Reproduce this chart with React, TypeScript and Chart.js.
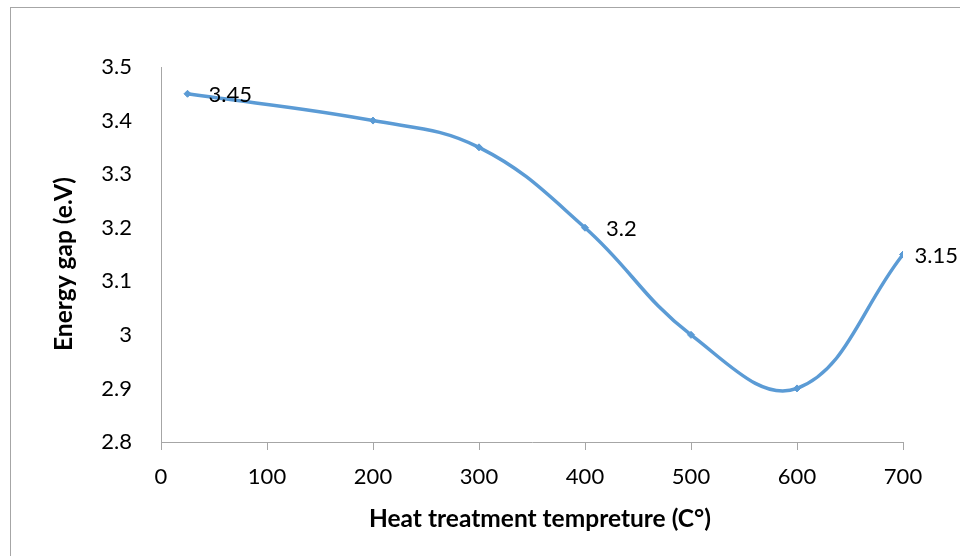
import React, { useEffect, useRef } from "react";
import { Chart, registerables } from "chart.js";

Chart.register(...registerables);

const temperatures = [25, 200, 300, 400, 500, 600, 700];
const energyGap = [3.45, 3.4, 3.35, 3.2, 3.0, 2.9, 3.15];
const labelledValues = ["3.45", "", "", "3.2", "", "", "3.15"];
const xTitle = "Heat treatment tempreture (C°)";
const yTitle = "Energy gap (e.V)";

const FONT = "Lato, 'Open Sans', sans-serif";

const decorPlugin = {
  id: "decor",
  beforeDraw(chart: any) {
    const ctx = chart.ctx;
    ctx.save();
    ctx.fillStyle = "#ffffff";
    ctx.fillRect(0, 0, chart.width, chart.height);
    ctx.strokeStyle = "#a6a6a6";
    ctx.lineWidth = 1;
    ctx.strokeRect(10.5, 7.5, chart.width + 20, chart.height + 20);
    ctx.restore();
  },
  afterDraw(chart: any) {
    const ctx = chart.ctx;
    ctx.save();
    ctx.fillStyle = "#000000";
    ctx.font = `bold 24.5px ${FONT}`;
    ctx.textAlign = "center";
    ctx.textBaseline = "middle";
    ctx.fillText(xTitle, 540, 519);
    ctx.translate(64, 264);
    ctx.rotate(-Math.PI / 2);
    ctx.fillText(yTitle, 0, 0);
    ctx.restore();

    const meta = chart.getDatasetMeta(0);
    ctx.save();
    ctx.font = `22px ${FONT}`;
    ctx.fillStyle = "#000000";
    ctx.textAlign = "left";
    ctx.textBaseline = "middle";
    meta.data.forEach((pt: any, i: number) => {
      const txt = labelledValues[i];
      if (!txt) return;
      const w = ctx.measureText(txt).width;
      const x = Math.min(pt.x + 21, chart.width - w - 2);
      ctx.fillText(txt, x, pt.y + 1);
    });
    ctx.restore();
  },
};

export default function App() {
  const ref = useRef<HTMLCanvasElement | null>(null);
  useEffect(() => {
    if (!ref.current) return;
    const chart = new Chart(ref.current, {
      type: "line",
      data: {
        datasets: [
          {
            data: temperatures.map((x, i) => ({ x, y: energyGap[i] })),
            borderColor: "#5b9bd5",
            backgroundColor: "#5b9bd5",
            borderWidth: 3.5,
            tension: 0.4,
            pointStyle: "rectRot",
            pointRadius: 3.5,
            pointBorderWidth: 1,
            fill: false,
          },
        ],
      },
      options: {
        animation: false,
        responsive: false,
        maintainAspectRatio: false,
        layout: { padding: { left: 0, top: 67, right: 57, bottom: 0 } },
        plugins: { legend: { display: false }, tooltip: { enabled: false } },
        scales: {
          x: {
            type: "linear",
            min: 0,
            max: 700,
            afterFit: (s: any) => {
              s.height = 114;
            },
            ticks: {
              stepSize: 100,
              color: "#000000",
              font: { family: FONT, size: 22 },
              padding: 14,
              maxRotation: 0,
            },
            grid: {
              display: true,
              drawOnChartArea: false,
              drawTicks: true,
              tickLength: 8,
              color: "#a6a6a6",
              lineWidth: 1,
            },
            border: { display: true, color: "#a6a6a6", width: 1 },
          },
          y: {
            min: 2.8,
            max: 3.5,
            afterFit: (s: any) => {
              s.width = 161;
            },
            ticks: {
              stepSize: 0.1,
              color: "#000000",
              font: { family: FONT, size: 22 },
              padding: 21,
              callback: (v: any) => String(Math.round(Number(v) * 10) / 10),
            },
            grid: { display: false },
            border: { display: true, color: "#a6a6a6", width: 1 },
          },
        },
      },
      plugins: [decorPlugin],
    });
    return () => chart.destroy();
  }, []);
  return (
    <div style={{ position: "fixed", left: 0, top: 0, width: 960, height: 556 }}>
      <canvas ref={ref} width={960} height={556} style={{ width: 960, height: 556 }} />
    </div>
  );
}
